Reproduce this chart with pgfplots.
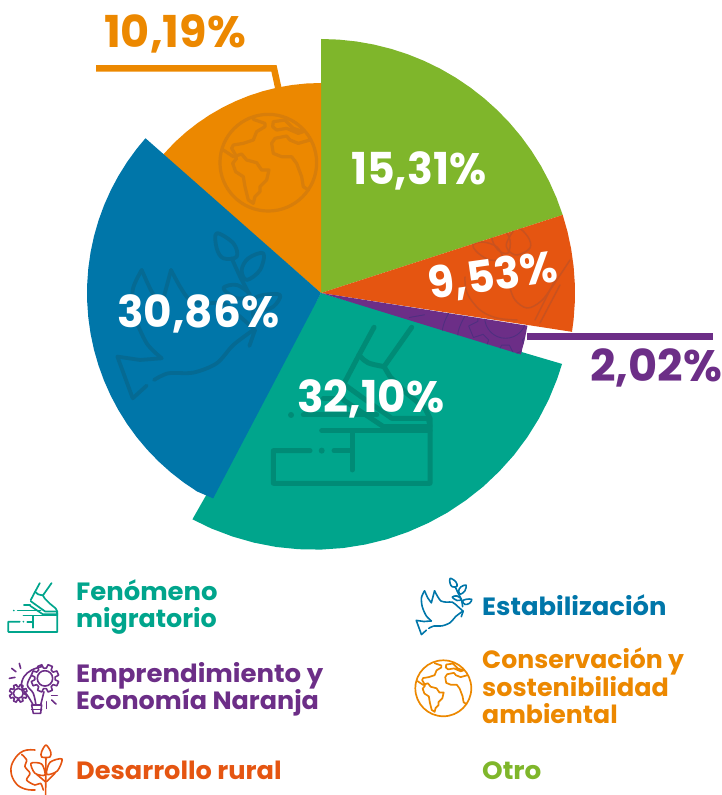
\documentclass[border=0pt]{standalone}
\usepackage{fontspec}
\setmainfont{Poppins}[BoldFont=Poppins Bold]
\usepackage{graphicx}
\usepackage{pgfplots}
\pgfplotsset{compat=1.18}
\usepgfplotslibrary{polar}
\definecolor{cgreen}{HTML}{7FB62B}
\definecolor{cred}{HTML}{E55511}
\definecolor{cpurple}{HTML}{6C2E87}
\definecolor{cteal}{HTML}{00A58C}
\definecolor{cblue}{HTML}{0076A9}
\definecolor{corange}{HTML}{EC8800}
\definecolor{dteal}{HTML}{008B76}
\definecolor{dblue}{HTML}{056A93}
\definecolor{dorange}{HTML}{D87E0A}
\definecolor{dred}{HTML}{C9521F}
\definecolor{dpurple}{HTML}{4F2F80}
\newcommand\sx[2]{\scalebox{#1}[1]{#2}}
% icons: drawn in the pixel coordinates of one zoomed sample, re-centred and scaled
\newcommand\icoglobe[5]{\begin{scope}[shift={(#1,#2)},scale=#3,shift={(-535,-488)},#4,line width=#5,line join=round,line cap=round]
\draw (535,488) circle (145);
\draw (400,450)--(430,470)--(455,462)--(470,480)--(500,488)--(515,510)--(537,510)--(530,540)--(510,560)--(510,575)--(495,590)--(490,610)--(475,600)--(465,560)--(460,530)--(437,515)--(428,490)--(440,475);
\draw (490,358)--(525,370)--(525,380)--(500,395)--(490,420)--(460,430)--(430,435)--(425,445)--(440,470);
\draw (550,365)--(585,360)--(610,385)--(640,395)--(625,400)--(590,385)--(560,390)--(548,380)--cycle;
\draw (660,420)--(625,430)--(600,420)--(590,408)--(555,415)--(545,430)--(550,460)--(575,470)--(605,470)--(620,490)--(635,530)--(640,560)--(655,570);
\end{scope}}
\newcommand\icodove[5]{\begin{scope}[shift={(#1,#2)},scale=#3,shift={(-320,-280)},#4,line width=#5,line join=round,line cap=round]
\draw (215,415)--(150,420)--(82,410)--(128,535)--(170,497);
\draw plot[smooth,tension=.5] coordinates {(215,415)(170,370)(135,290)(128,210)(155,150)};
\draw plot[smooth,tension=.5] coordinates {(155,150)(185,215)(215,255)};
\draw (215,255)--(243,150);
\draw plot[smooth,tension=.5] coordinates {(243,150)(270,200)(300,240)(350,250)(400,250)(450,290)(495,330)};
\draw plot[smooth,tension=.5] coordinates {(192,480)(235,460)(310,458)(380,430)(430,375)(490,330)};
\draw (495,330)--(478,378);
\draw plot[smooth,tension=.5] coordinates {(490,290)(480,230)(450,170)(425,115)};
\draw plot[smooth cycle,tension=.6] coordinates {(380,40)(430,70)(440,110)(400,115)(380,85)};
\draw plot[smooth cycle,tension=.6] coordinates {(520,100)(510,150)(470,180)(455,150)(475,115)};
\draw plot[smooth cycle,tension=.6] coordinates {(400,205)(440,195)(480,225)(440,235)};
\draw plot[smooth cycle,tension=.6] coordinates {(570,225)(550,260)(510,270)(490,240)(520,225)};
\end{scope}}
\newcommand\icofoot[5]{\begin{scope}[shift={(#1,#2)},scale=#3,shift={(-515,-286)},#4,line width=#5,line join=round,line cap=round]
\draw (582,52)--(537,135)--(495,215);
\draw (695,52)--(612,170);
\draw (537,135) .. controls (560,160) .. (612,170);
\draw (495,225)--(550,265)--(635,325)--(745,325)--(750,350)--(610,350)--(490,270);
\draw (612,170)--(630,200)--(680,250)--(735,295)--(750,325)--(750,520)--(280,520)--(280,422)--(390,422);
\fill (425,422) circle (9);
\draw (462,422)--(516,422);
\draw (516,370)--(516,480);
\draw (425,362)--(750,362);
\draw (370,315)--(590,315);
\fill (333,315) circle (9);
\draw (430,265)--(490,265);
\end{scope}}
\newcommand\gear[3]{\draw (#1+#3*.55,#2) arc (0:360:#3*.55);
\draw (#1+#3*.72,#2) \foreach \a in {0,45,...,315}{ -- ++(0,0) -- ({#1+#3*.74*cos(\a+8)},{#2+#3*.74*sin(\a+8)}) -- ({#1+#3*cos(\a+13)},{#2+#3*sin(\a+13)}) -- ({#1+#3*cos(\a+32)},{#2+#3*sin(\a+32)}) -- ({#1+#3*.74*cos(\a+37)},{#2+#3*.74*sin(\a+37)})} -- cycle;}
\newcommand\icobulb[5]{\begin{scope}[shift={(#1,#2)},scale=#3,shift={(-100,-110)},#4,line width=#5,line join=round,line cap=round]
\gear{135}{85}{42}
\gear{55}{130}{27}
\draw plot[smooth,tension=.6] coordinates {(100,165)(85,140)(65,110)(72,80)(95,60)(125,50)};
\draw plot[smooth,tension=.6] coordinates {(108,165)(100,130)(82,105)(95,75)};
\draw (132,125)--(122,165);
\draw (95,165)--(125,165)--(122,190)--(100,190)--cycle;
\draw (95,178)--(125,178);
\draw (58,40)--(62,55);\draw (35,55)--(48,65);\draw (28,85)--(45,82);
\draw (155,137)--(172,137);\draw (155,150)--(168,162);\draw (140,155)--(140,175);
\end{scope}}
\newcommand\icoplant[5]{\begin{scope}[shift={(#1,#2)},scale=#3,shift={(-100,-105)},#4,line width=#5,line join=round,line cap=round]
\draw plot[smooth,tension=.7] coordinates {(105,45)(70,48)(42,75)(33,110)(48,145)(75,162)(105,165)};
\draw plot[smooth,tension=.5] coordinates {(65,58)(80,75)(75,95)(90,115)(80,135)(105,150)(122,145)(130,165)};
\draw (138,70)--(137,180);
\draw plot[smooth cycle,tension=.5] coordinates {(138,30)(125,50)(125,66)(150,66)(152,50)};
\draw plot[smooth cycle,tension=.5] coordinates {(93,85)(125,87)(135,120)(105,115)};
\draw plot[smooth cycle,tension=.5] coordinates {(186,72)(150,82)(140,118)(172,108)};
\draw (136,140)--(110,118);\draw (140,140)--(165,115);
\end{scope}}
\begin{document}
\begin{tikzpicture}
\path[use as bounding box] (0,0) rectangle (722pt,795pt);
\begin{axis}[hide axis,scale only axis,width=722pt,height=795pt,clip=false,
  xmin=-321,xmax=401,ymin=-502,ymax=293,axis equal=false]
% angle (degrees), radius (px) of each sector's outline
\addplot[fill=cgreen,draw=none,data cs=polar] coordinates {(0,0)(90,254)(86,254)(82,254)(78,254)(74,254)(70,254)(66,254)(62,254)(58,254)(54,254)(50,254)(46,254)(42,254)(38,254)(34,254)(30,254)(26,254)(22,254)(17.9,254)} --cycle;
\addplot[fill=cred,draw=none,data cs=polar] coordinates {(0,0)(17.9,254)(14,254)(10,254)(6,254)(2,254)(-2,254)(-6,254)(-8.8,254)} --cycle;
\addplot[fill=cteal,draw=none,data cs=polar] coordinates {(0,0)(-16.4,251.3)(-20,251.3)(-25,251.4)(-30,251.5)(-35,251.7)(-40,252.0)(-45,252.2)(-50,252.6)(-55,252.9)(-60,253.4)(-65,253.8)(-70,254.3)(-75,254.9)(-80,255.4)(-85,256.0)(-90,256.6)(-95,257.2)(-100,257.9)(-105,258.5)(-110,259.1)(-115,259.8)(-119.6,260.3)} --cycle;
\addplot[fill=cpurple,draw=none,data cs=polar] coordinates {(0,0)(-9,209)(-13,209)(-17.1,209)} --cycle;
\addplot[fill=corange,draw=none,data cs=polar] coordinates {(0,0)(90,210)(94,210)(98,210)(102,210)(106,210)(110,210)(114,210)(118,210)(122,210)(126,210)(130,210)(134,210)(139,210)} --cycle;
\addplot[fill=cblue,draw=none,data cs=polar] coordinates {(0,0)(138.6,234)(142,234)(146,234)(150,234)(154,234)(158,234)(162,234)(166,234)(170,234)(174,234)(178,234)(182,234)(186,234)(190,234)(194,234)(198,234)(202,234)(206,234)(210,234)(214,234)(218,234)(222,234)(226,234)(230,234)(234,234)(238,234)(242.3,232)} --cycle;
% callout rules
\addplot[corange,line width=6.5pt,miter limit=10] coordinates {(-225,224.5)(-47,224.5)(-42.5,204)};
\addplot[cpurple,line width=6.8pt] coordinates {(206,-43.7)(392.3,-43.7)};
\end{axis}
\begin{scope}[shift={(0,795pt)},x=1pt,y=-1pt]
\icoglobe{268.3}{162.7}{.3333}{dorange}{3.2pt}
\icodove{196.7}{313.3}{.3333}{dblue}{3.8pt}
\begin{scope}
\clip (321,293)--(562.7,215)--(568,240)--(573,265)--(575,293)--(574.5,310)--(572,332)--cycle;
\begin{scope}[dred,line width=1.5pt,line cap=round]
\draw plot[smooth,tension=.6] coordinates {(465,277)(467,293)(480,310)(497,318)(517,320)};
\draw plot[smooth,tension=.6] coordinates {(510,288)(515,300)(527,308)(540,302)(550,290)(570,260)};
\draw (560,285)--(540,323);
\draw (555,280)--(535,320);
\draw plot[smooth cycle,tension=.6] coordinates {(473,245)(483,242)(497,247)(502,258)(490,260)(478,253)};
\draw plot[smooth cycle,tension=.6] coordinates {(492,237)(503,230)(510,240)(508,253)(498,250)};
\draw plot[smooth cycle,tension=.6] coordinates {(507,242)(517,228)(528,237)(530,248)(517,255)(508,250)};
\end{scope}
\end{scope}
\begin{scope}
\clip (321,293)--(527.3,325.7)--(521,354.7)--cycle;
\icobulb{474}{340}{.9}{dpurple}{.9pt}
\end{scope}
\icofoot{351.7}{405.3}{.3333}{dteal}{5pt}
\tikzset{pc/.style={inner sep=0,font=\bfseries\fontsize{44}{44}\selectfont},pb/.style={pc,anchor=base west}}
\node[pb,text=corange] at (104,48) {\sx{1.014}{10,19\%}};
\node[pb,text=white] at (351,185) {\sx{.97}{15,31\%}};
\node[pc,anchor=center,text=white,rotate=8] at (493,277) {\sx{.97}{9,53\%}};
\node[pb,text=cpurple] at (590,382) {\sx{1.015}{2,02\%}};
\node[pb,text=white] at (117,327.5) {\sx{.995}{30,86\%}};
\node[pb,text=white] at (297,412.5) {\sx{.995}{32,10\%}};
\tikzset{lg/.style={anchor=base west,inner sep=0,font=\bfseries\fontsize{25}{25}\selectfont}}
\node[lg,text=cteal] at (76,601) {\sx{1.036}{Fenómeno}};
\node[lg,text=cteal] at (76,628) {\sx{1.015}{migratorio}};
\node[lg,text=cpurple] at (76,682.5) {\sx{1.04}{Emprendimiento y}};
\node[lg,text=cpurple] at (76,710) {\sx{1.017}{Economía Naranja}};
\node[lg,text=cred] at (76,779.3) {\sx{1.025}{Desarrollo rural}};
\node[lg,text=cblue] at (482,615.3) {\sx{1.034}{Estabilización}};
\node[lg,text=corange] at (482,669) {\sx{1.005}{Conservación y}};
\node[lg,text=corange] at (482,696.7) {\sx{1.016}{sostenibilidad}};
\node[lg,text=corange] at (482,724) {\sx{1.007}{ambiental}};
\node[lg,text=cgreen] at (482,779.2) {\sx{1.05}{Otro}};
\icofoot{32.8}{607.5}{.1043}{cteal}{1.7pt}
\icodove{443.3}{605.6}{.1137}{cblue}{1.6pt}
\icoglobe{443.3}{688.3}{.193}{corange}{1.7pt}
\icobulb{33.3}{686.7}{.3333}{cpurple}{1.6pt}
\icoplant{33.3}{770}{.3333}{cred}{1.6pt}
\end{scope}
\end{tikzpicture}
\end{document}
